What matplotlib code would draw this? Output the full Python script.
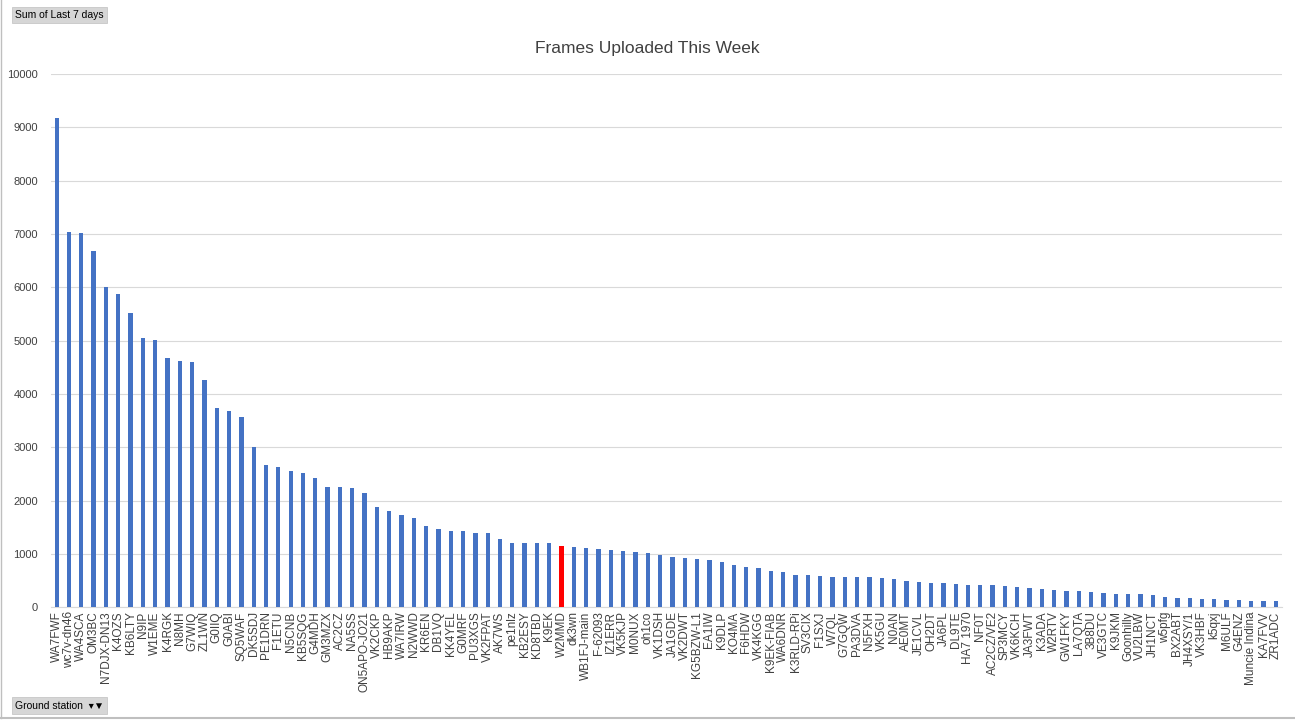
import matplotlib
matplotlib.use('Agg')
import matplotlib.pyplot as plt
import numpy as np

stations = [
    "WA7FWF", "wc7v-dn46", "WA4SCA", "OM3BC", "N7DJX-DN13", "K4OZS", "KB6LTY", "N9IP",
    "W1EME", "K4RGK", "N8MH", "G7WIQ", "ZL1WN", "G0IIQ", "G0ABI", "SQ5WAF", "DK5SDJ",
    "PE1DRN", "F1ETU", "N5CNB", "KB5SQG", "G4MDH", "GM3MZX", "AC2CZ", "NA5SS",
    "ON5APO-JO21", "VK2CKP", "HB9AKP", "WA7IRW", "N2WWD", "KR6EN", "DB1VQ", "KK4YEL",
    "G0MRF", "PU3XGS", "VK2FPAT", "AK7WS", "pe1nlz", "KB2ESY", "KD8TBD", "K9EK",
    "W2MMD", "dk3wn", "WB1FJ-main", "F-62093", "IZ1ERR", "VK5KJP", "M0NUX", "oh1co",
    "VK1DSH", "JA1GDE", "VK2DWT", "KG5BZW-L1", "EA1IW", "K9DLP", "KO4MA", "F6HDW",
    "VK4KGG", "K9EK-FIAB", "WA6DNR", "K3RLD-RPi", "SV3CIX", "F1SXJ", "W7QL", "G7GQW",
    "PA3DVA", "N5FXH", "VK5GU", "N0AN", "AE0MT", "JE1CVL", "OH2DT", "JA6PL", "DL9TE",
    "HA7 1970", "NF0T", "AC2CZ/VE2", "SP3MCY", "VK6KCH", "JA3FWT", "K3ADA", "W2RTV",
    "GW1FKY", "LA7QTA", "3B8DU", "VE3GTC", "K9JKM", "Goonhilly", "VU2LBW", "JH1NCT",
    "w5pfg", "BX2ABT", "JH4XSY/1", "VK3HBF", "k5qxj", "M6ULF", "G4ENZ", "Muncie Indina",
    "KA7FVV", "ZR1ADC",
]

frames = [
    9180, 7035, 7020, 6680, 6000, 5880, 5520, 5050,
    5010, 4680, 4620, 4600, 4260, 3740, 3680, 3570, 3010,
    2670, 2630, 2560, 2520, 2430, 2260, 2260, 2240,
    2150, 1870, 1800, 1730, 1680, 1520, 1470, 1430,
    1430, 1400, 1390, 1280, 1210, 1210, 1200, 1200,
    1140, 1130, 1110, 1100, 1080, 1060, 1030, 1020,
    970, 940, 930, 900, 880, 840, 800, 750,
    740, 680, 660, 600, 600, 590, 570, 570,
    570, 560, 540, 530, 500, 480, 450, 450, 440,
    420, 410, 410, 400, 370, 360, 340, 330,
    310, 300, 280, 270, 240, 240, 240, 220,
    200, 170, 170, 160, 150, 140, 130, 120,
    110, 110,
]

highlight = "W2MMD"

plt.rcParams['font.family'] = ['Liberation Sans', 'DejaVu Sans']

fig = plt.figure(figsize=(12.95, 7.22), dpi=100)
ax = fig.add_axes([0.039, 0.159, 0.951, 0.7385])

x = np.arange(len(stations))
colors = ['#FF0000' if s == highlight else '#4472C4' for s in stations]
ax.bar(x, frames, width=0.35, color=colors, zorder=3)

ax.set_xlim(-0.5, len(stations) - 0.5)
ax.set_ylim(0, 10000)
ax.set_yticks(np.arange(0, 10001, 1000))
ax.tick_params(axis='y', length=0, labelsize=8, colors='#404040', pad=9)
ax.set_xticks(x)
ax.set_xticklabels(stations, rotation=90, fontsize=8.5, color='#404040')
ax.tick_params(axis='x', length=0, pad=3)
ax.grid(axis='y', color='#d9d9d9', linewidth=0.8, zorder=0)
for side in ['top', 'right', 'left']:
    ax.spines[side].set_visible(False)
ax.spines['bottom'].set_color('#d9d9d9')

fig.text(0.5, 0.933, "Frames Uploaded This Week", ha='center', va='center',
         fontsize=12.5, color='#404040')

# pivot chart field buttons
fig.text(0.0115, 0.979, "Sum of Last 7 days", ha='left', va='center', fontsize=7.5,
         color='black', bbox=dict(boxstyle='square,pad=0.3', fc='#d6d6d6', ec='#c0c0c0', lw=0.5))
fig.text(0.0115, 0.023, "Ground station  \u25be\u25bc", ha='left', va='center', fontsize=7.5,
         color='black', bbox=dict(boxstyle='square,pad=0.3', fc='#d6d6d6', ec='#c0c0c0', lw=0.5))

# outer frame lines
fig.add_artist(plt.Line2D([0.001, 0.001], [0.005, 1], color='#bfbfbf', lw=1))
fig.add_artist(plt.Line2D([0.001, 1], [0.005, 0.005], color='#bfbfbf', lw=1.5))

fig.savefig('out.png', dpi=100)
